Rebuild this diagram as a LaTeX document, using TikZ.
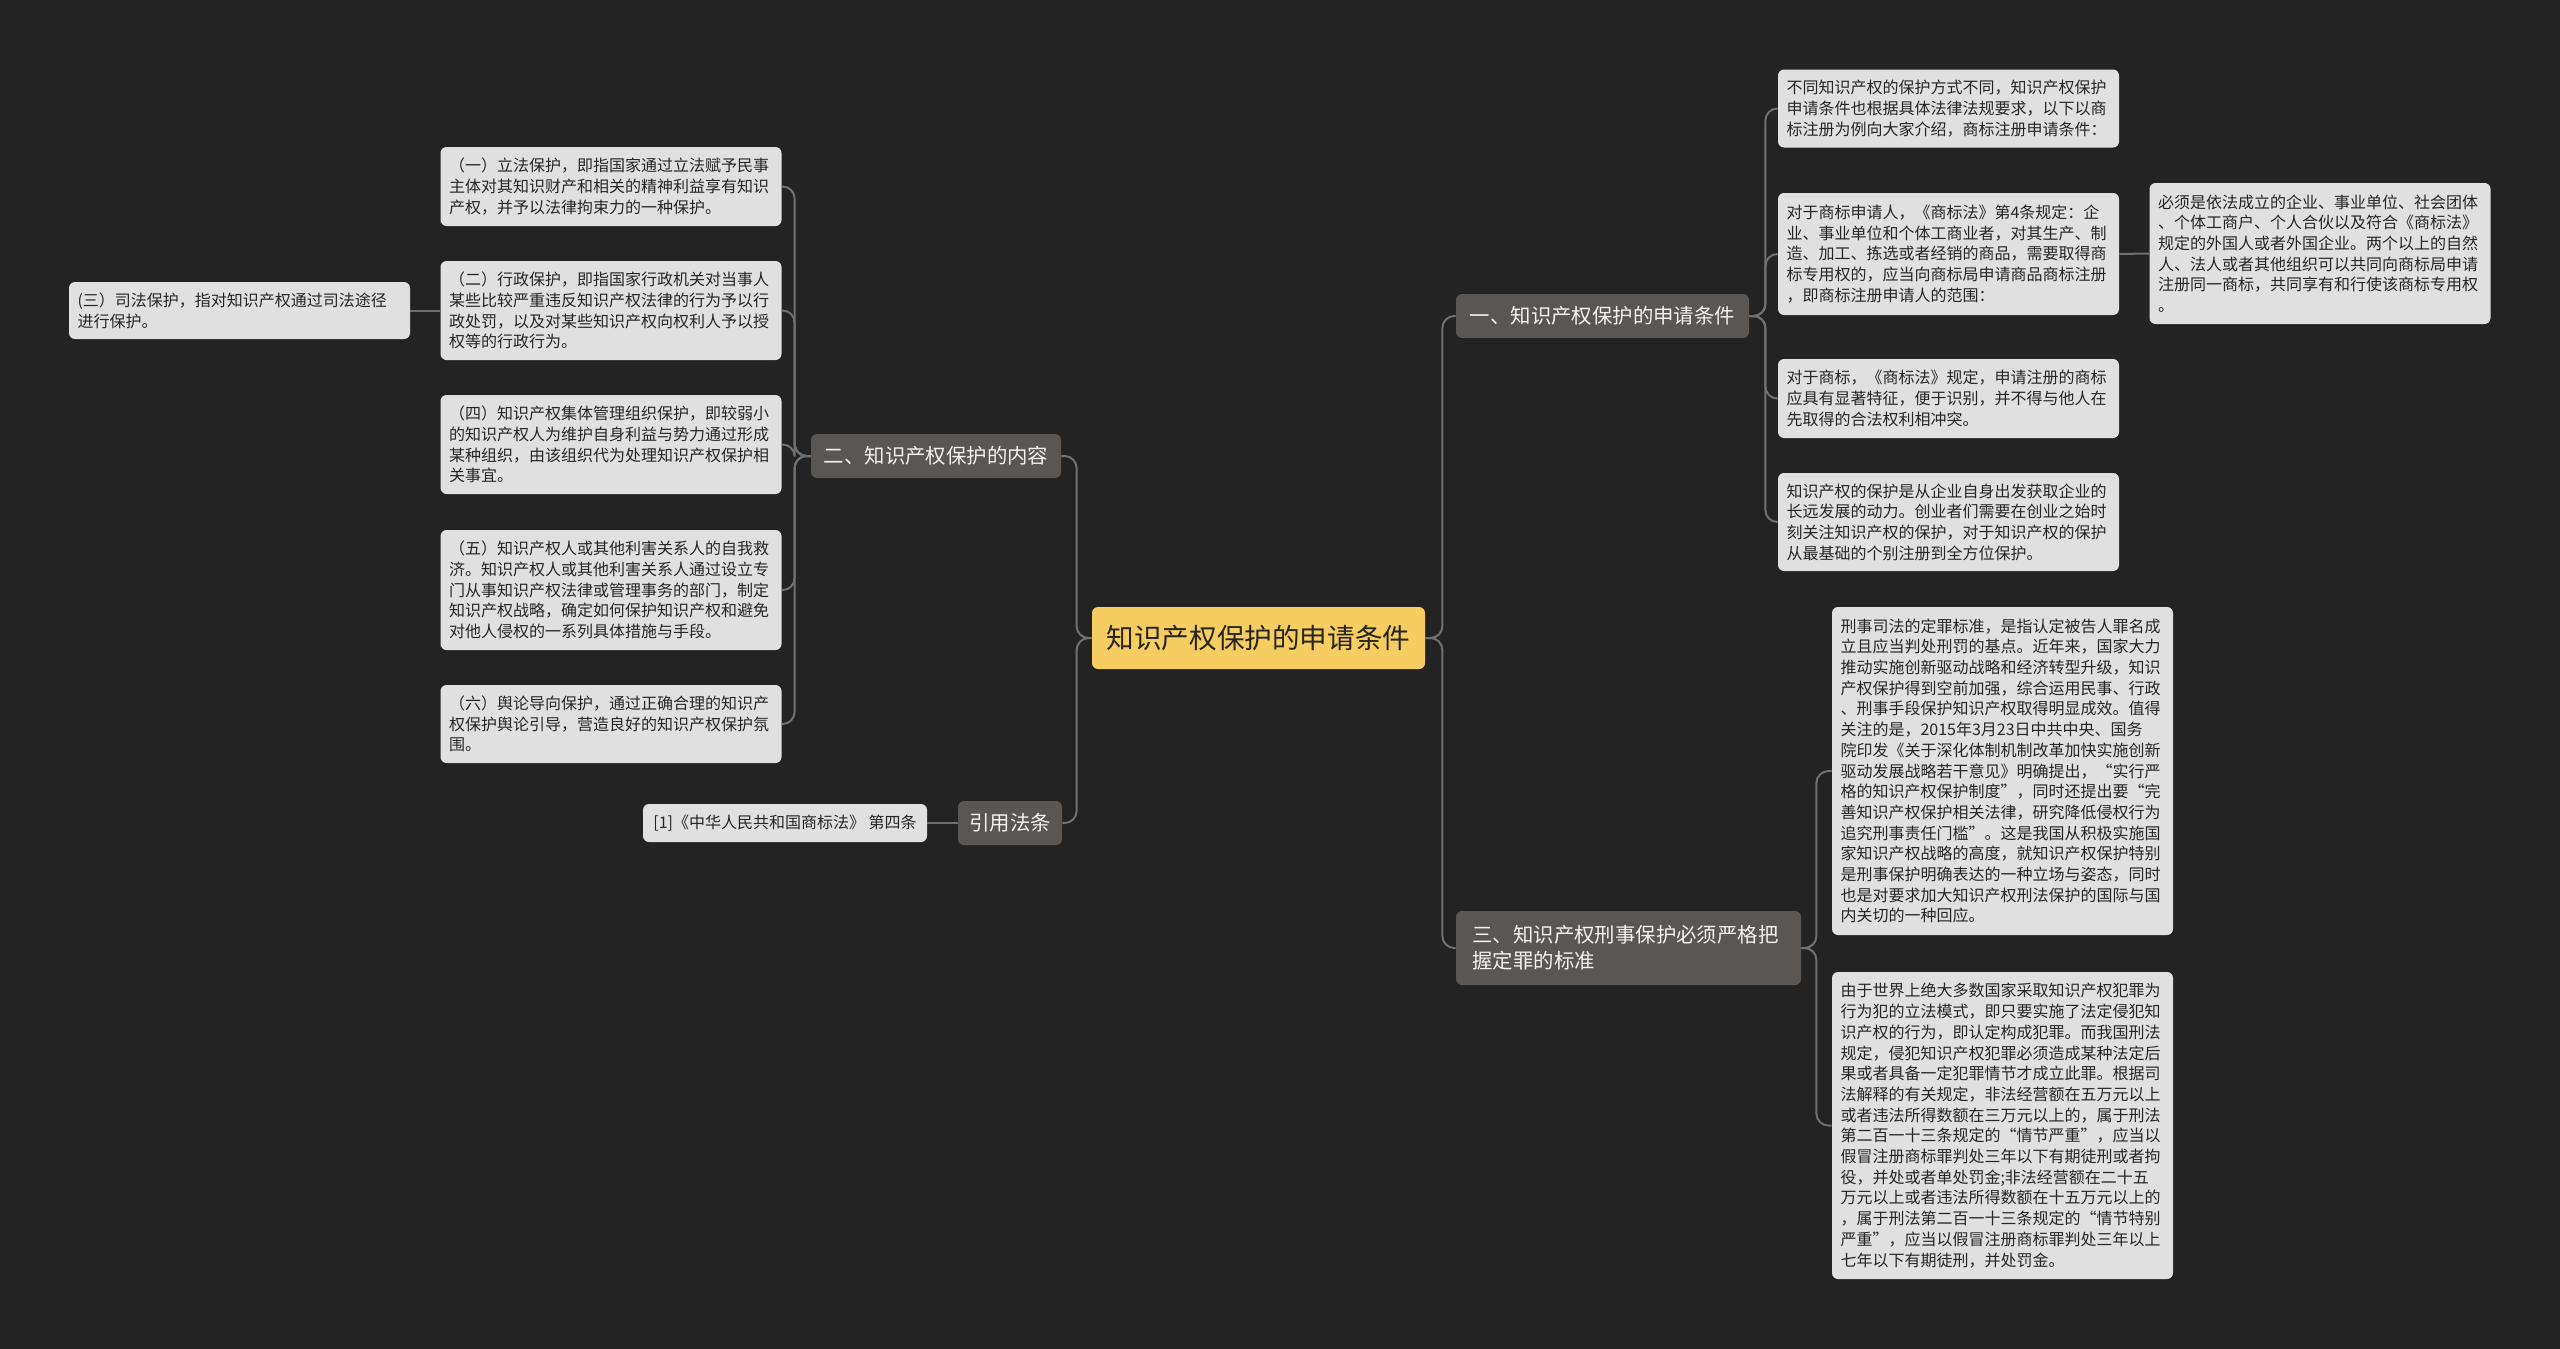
\documentclass[tikz,border=0pt]{standalone}
\usepackage{fontspec}
\setmainfont{Noto Sans CJK SC}
\definecolor{bg}{RGB}{35,35,35}
\definecolor{linec}{RGB}{112,112,112}
\definecolor{leaff}{RGB}{224,224,224}
\definecolor{leaft}{RGB}{38,38,38}
\definecolor{branchf}{RGB}{90,86,83}
\definecolor{brancht}{RGB}{242,242,242}
\definecolor{rootf}{RGB}{246,205,96}
\definecolor{roott}{RGB}{40,36,30}
\tikzset{
  leaf/.style={fill=leaff, text=leaft, rounded corners=3pt, text width=162pt, inner xsep=4.25pt, inner ysep=2pt, align=left, font=\fontsize{8}{10.35}\selectfont, anchor=center},
  citebox/.style={fill=leaff, text=leaft, rounded corners=3pt, minimum width=142pt, minimum height=19pt, inner sep=2pt, font=\fontsize{8}{10.35}\selectfont, anchor=center},
  branch/.style={fill=branchf, text=brancht, rounded corners=3pt, minimum height=22pt, inner sep=2pt, font=\fontsize{10.2}{13}\selectfont, anchor=center},
  rootbox/.style={fill=rootf, text=roott, rounded corners=3pt, minimum width=166.5pt, minimum height=31pt, inner sep=2pt, font=\fontsize{13.8}{16}\selectfont, anchor=center},
  conn/.style={draw=linec, line width=1pt, rounded corners=6pt}
}
\begin{document}
\begin{tikzpicture}[x=0.5pt,y=-0.5pt]
\fill[bg] (0,0) rectangle (2560,1349);
\useasboundingbox (0,0) rectangle (2560,1349);

% root
\node[rootbox] (root) at (1258.5,638) {知识产权保护的申请条件};

% branches
\node[branch, minimum width=146.5pt] (b1) at (1602.5,316) {一、知识产权保护的申请条件};
\node[branch, minimum width=172.5pt, minimum height=37pt, text width=156pt, align=left] (b3) at (1628.5,948) {三、知识产权刑事保护必须严格把\\握定罪的标准};
\node[branch, minimum width=125pt] (b2) at (936,456) {二、知识产权保护的内容};
\node[branch, minimum width=52pt] (b4) at (1010,823) {引用法条};

% right leaves of b1
\node[leaf, minimum height=39pt] (a) at (1948.5,108.5) {不同知识产权的保护方式不同，知识产权保护\\申请条件也根据具体法律法规要求，以下以商\\标注册为例向大家介绍，商标注册申请条件：};
\node[leaf, minimum height=61pt] (b) at (1948.5,254) {对于商标申请人，《商标法》第4条规定：企\\业、事业单位和个体工商业者，对其生产、制\\造、加工、拣选或者经销的商品，需要取得商\\标专用权的，应当向商标局申请商品商标注册\\，即商标注册申请人的范围：};
\node[leaf, minimum height=70.5pt] (c) at (2320,253.5) {必须是依法成立的企业、事业单位、社会团体\\、个体工商户、个人合伙以及符合《商标法》\\规定的外国人或者外国企业。两个以上的自然\\人、法人或者其他组织可以共同向商标局申请\\注册同一商标，共同享有和行使该商标专用权\\。};
\node[leaf, minimum height=39.5pt] (d) at (1948.5,398.5) {对于商标，《商标法》规定，申请注册的商标\\应具有显著特征，便于识别，并不得与他人在\\先取得的合法权利相冲突。};
\node[leaf, minimum height=49pt] (e) at (1948.5,522) {知识产权的保护是从企业自身出发获取企业的\\长远发展的动力。创业者们需要在创业之始时\\刻关注知识产权的保护，对于知识产权的保护\\从最基础的个别注册到全方位保护。};

% leaves of b3
\node[leaf, minimum height=164pt] (f) at (2002.5,771) {刑事司法的定罪标准，是指认定被告人罪名成\\立且应当判处刑罚的基点。近年来，国家大力\\推动实施创新驱动战略和经济转型升级，知识\\产权保护得到空前加强，综合运用民事、行政\\、刑事手段保护知识产权取得明显成效。值得\\关注的是，2015年3月23日中共中央、国务\\院印发《关于深化体制机制改革加快实施创新\\驱动发展战略若干意见》明确提出，“实行严\\格的知识产权保护制度”，同时还提出要“完\\善知识产权保护相关法律，研究降低侵权行为\\追究刑事责任门槛”。这是我国从积极实施国\\家知识产权战略的高度，就知识产权保护特别\\是刑事保护明确表达的一种立场与姿态，同时\\也是对要求加大知识产权刑法保护的国际与国\\内关切的一种回应。};
\node[leaf, minimum height=153.5pt] (g) at (2002.5,1125.5) {由于世界上绝大多数国家采取知识产权犯罪为\\行为犯的立法模式，即只要实施了法定侵犯知\\识产权的行为，即认定构成犯罪。而我国刑法\\规定，侵犯知识产权犯罪必须造成某种法定后\\果或者具备一定犯罪情节才成立此罪。根据司\\法解释的有关规定，非法经营额在五万元以上\\或者违法所得数额在三万元以上的，属于刑法\\第二百一十三条规定的“情节严重”，应当以\\假冒注册商标罪判处三年以下有期徒刑或者拘\\役，并处或者单处罚金;非法经营额在二十五\\万元以上或者违法所得数额在十五万元以上的\\，属于刑法第二百一十三条规定的“情节特别\\严重”，应当以假冒注册商标罪判处三年以上\\七年以下有期徒刑，并处罚金。};

% left leaves of b2
\node[leaf, minimum height=39.5pt] (l1) at (611,186.5) {（一）立法保护，即指国家通过立法赋予民事\\主体对其知识财产和相关的精神利益享有知识\\产权，并予以法律拘束力的一种保护。};
\node[leaf, minimum height=49.5pt] (l2) at (611,310.5) {（二）行政保护，即指国家行政机关对当事人\\某些比较严重违反知识产权法律的行为予以行\\政处罚，以及对某些知识产权向权利人予以授\\权等的行政行为。};
\node[leaf, minimum height=28.5pt] (l3) at (239.5,310.5) {(三）司法保护，指对知识产权通过司法途径\\进行保护。};
\node[leaf, minimum height=49.5pt] (l4) at (611,444.5) {（四）知识产权集体管理组织保护，即较弱小\\的知识产权人为维护自身利益与势力通过形成\\某种组织，由该组织代为处理知识产权保护相\\关事宜。};
\node[leaf, minimum height=60pt] (l5) at (611,590) {（五）知识产权人或其他利害关系人的自我救\\济。知识产权人或其他利害关系人通过设立专\\门从事知识产权法律或管理事务的部门，制定\\知识产权战略，确定如何保护知识产权和避免\\对他人侵权的一系列具体措施与手段。};
\node[leaf, minimum height=39pt] (l6) at (611,724) {（六）舆论导向保护，通过正确合理的知识产\\权保护舆论引导，营造良好的知识产权保护氛\\围。};

% citation
\node[citebox] (cite) at (785,823) {[1]《中华人民共和国商标法》 第四条};

% connectors
\begin{scope}[on background layer/.style={}]
\draw[conn] (root.east) -- ++(17,0) |- (b1.west);
\draw[conn] (root.east) -- ++(17,0) |- (b3.west);
\draw[conn] (root.west) -- ++(-15,0) |- (b2.east);
\draw[conn] (root.west) -- ++(-15,0) |- (b4.east);

\draw[conn] (b1.east) -- ++(16,0) |- (a.west);
\draw[conn] (b1.east) -- ++(16,0) |- (b.west);
\draw[conn] (b1.east) -- ++(16,0) |- (d.west);
\draw[conn] (b1.east) -- ++(16,0) |- (e.west);
\draw[conn] (b.east) -- (c.west);

\draw[conn] (b3.east) -- ++(15,0) |- (f.west);
\draw[conn] (b3.east) -- ++(15,0) |- (g.west);

\draw[conn] (b2.west) -- ++(-16,0) |- (l1.east);
\draw[conn] (b2.west) -- ++(-16,0) |- (l2.east);
\draw[conn] (b2.west) -- ++(-16,0) |- (l4.east);
\draw[conn] (b2.west) -- ++(-16,0) |- (l5.east);
\draw[conn] (b2.west) -- ++(-16,0) |- (l6.east);
\draw[conn] (l2.west) -- (l3.east);

\draw[conn] (b4.west) -- (cite.east);
\end{scope}
\end{tikzpicture}
\end{document}
